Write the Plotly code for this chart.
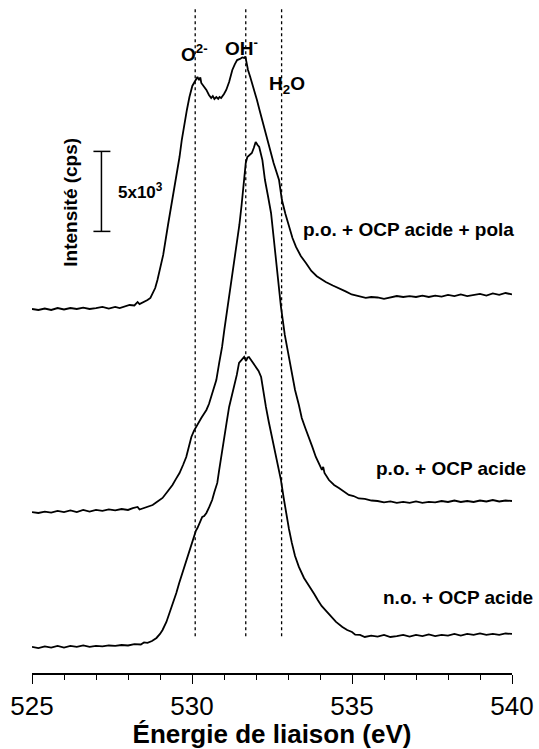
import plotly.graph_objects as go

# O 1s XPS spectra, binding energy (eV) and intensity (cps) before stacking
energy_pola = [525.0, 525.2, 525.4, 525.6, 525.8, 526.0, 526.2, 526.4, 526.6, 526.8,
               527.0, 527.2, 527.4, 527.6, 527.74, 527.9, 528.05, 528.2, 528.3, 528.36,
               528.5, 528.61, 528.7, 528.77, 528.85, 528.92, 529.0, 529.1, 529.25, 529.35,
               529.45, 529.53, 529.61, 529.68, 529.76, 529.84, 529.92, 530.01, 530.08, 530.17,
               530.22, 530.26, 530.29, 530.37, 530.45, 530.53, 530.6, 530.65, 530.7, 530.76,
               530.82, 530.86, 530.91, 531.0, 531.07, 531.16, 531.26, 531.34, 531.41, 531.5,
               531.57, 531.63, 531.67, 531.69, 531.75, 531.82, 531.88, 531.95, 532.03, 532.11,
               532.19, 532.3, 532.4, 532.55, 532.72, 532.81, 532.92, 533.03, 533.14, 533.25,
               533.4, 533.56, 533.73, 533.9, 534.05, 534.18, 534.4, 534.59, 534.8, 534.99,
               535.2, 535.43, 535.6, 535.8, 536.0, 536.2, 536.4, 536.6, 536.8, 537.0,
               537.2, 537.4, 537.6, 537.8, 538.0, 538.2, 538.4, 538.6, 538.8, 539.0,
               539.2, 539.4, 539.6, 539.8, 540.0]
counts_pola = [2750, 2690, 2780, 2690, 2810, 2720, 2810, 2750, 2840, 2750,
               2810, 2880, 2780, 2880, 2810, 2910, 3000, 2970, 3190, 3060,
               3190, 3310, 3440, 3750, 4060, 4560, 5190, 6130, 8000, 9130,
               10190, 11250, 12250, 13310, 14380, 15190, 16000, 16690, 16940, 17250,
               17060, 17220, 16880, 16690, 16440, 16130, 15940, 16060, 15880, 16000,
               15880, 16000, 15940, 16190, 16440, 16940, 17690, 18060, 18310, 18380,
               18470, 18440, 18530, 18310, 17690, 17250, 16880, 16380, 15810, 15190,
               14560, 13750, 13000, 11880, 10810, 9560, 8690, 7880, 7190, 6630,
               6060, 5630, 5130, 4800, 4600, 4440, 4220, 4020, 3850, 3660,
               3560, 3450, 3500, 3470, 3380, 3470, 3560, 3500, 3560, 3500,
               3590, 3500, 3590, 3530, 3630, 3560, 3660, 3560, 3630, 3690,
               3590, 3720, 3630, 3750, 3660]

energy_po = [525.0, 525.2, 525.4, 525.6, 525.8, 526.0, 526.2, 526.4, 526.6, 526.8,
             527.0, 527.2, 527.4, 527.6, 527.8, 528.0, 528.15, 528.3, 528.36, 528.5,
             528.65, 528.77, 528.9, 529.08, 529.2, 529.3, 529.39, 529.5, 529.61, 529.72,
             529.82, 529.9, 529.98, 530.06, 530.14, 530.21, 530.29, 530.37, 530.45, 530.53,
             530.6, 530.68, 530.76, 530.85, 530.94, 531.01, 531.1, 531.2, 531.3, 531.4,
             531.48, 531.55, 531.63, 531.68, 531.73, 531.8, 531.87, 531.93, 531.99, 532.05,
             532.1, 532.2, 532.28, 532.38, 532.47, 532.55, 532.63, 532.7, 532.78, 532.9,
             533.0, 533.1, 533.22, 533.34, 533.43, 533.54, 533.65, 533.76, 533.87, 533.97,
             534.06, 534.1, 534.14, 534.28, 534.44, 534.59, 534.75, 534.9, 535.05, 535.21,
             535.4, 535.61, 535.8, 536.0, 536.2, 536.4, 536.6, 536.8, 537.0, 537.2,
             537.4, 537.6, 537.8, 538.0, 538.2, 538.4, 538.6, 538.8, 539.0, 539.2,
             539.4, 539.6, 539.8, 540.0]
counts_po = [2060, 2000, 2090, 2030, 2130, 2060, 2160, 2060, 2190, 2090,
             2190, 2130, 2220, 2160, 2250, 2190, 2310, 2380, 2220, 2310,
             2380, 2500, 2690, 2940, 3250, 3500, 3750, 4130, 4500, 5000,
             5500, 6130, 6750, 7130, 7440, 7690, 7940, 8190, 8440, 8810,
             9250, 9750, 10310, 11380, 12380, 13440, 14690, 15940, 17380, 18750,
             20000, 21250, 22810, 23880, 24250, 24380, 24500, 24810, 25190, 25000,
             24880, 24060, 22810, 21750, 20750, 19250, 17630, 16250, 14880, 13130,
             12000, 10940, 9690, 8750, 7940, 7310, 6750, 6130, 5500, 5060,
             4690, 4880, 4500, 4060, 3750, 3560, 3310, 3130, 3060, 2910,
             2880, 2780, 2750, 2660, 2720, 2630, 2690, 2630, 2720, 2630,
             2690, 2660, 2750, 2690, 2780, 2690, 2750, 2690, 2780, 2720,
             2810, 2720, 2780, 2750]

energy_no = [525.0, 525.2, 525.4, 525.6, 525.8, 526.0, 526.2, 526.4, 526.6, 526.8,
             527.0, 527.2, 527.4, 527.6, 527.8, 528.0, 528.2, 528.4, 528.5, 528.61,
             528.75, 528.89, 529.0, 529.08, 529.2, 529.3, 529.4, 529.51, 529.6, 529.7,
             529.8, 529.92, 530.0, 530.07, 530.12, 530.17, 530.25, 530.32, 530.38, 530.45,
             530.54, 530.63, 530.7, 530.79, 530.85, 530.93, 531.01, 531.08, 531.16, 531.24,
             531.32, 531.4, 531.47, 531.55, 531.63, 531.69, 531.74, 531.78, 531.88, 532.0,
             532.08, 532.16, 532.23, 532.31, 532.4, 532.5, 532.6, 532.69, 532.78, 532.86,
             532.94, 533.03, 533.12, 533.22, 533.34, 533.42, 533.5, 533.6, 533.71, 533.82,
             533.93, 534.05, 534.19, 534.35, 534.5, 534.7, 534.85, 535.0, 535.1, 535.25,
             535.4, 535.6, 535.8, 536.0, 536.2, 536.4, 536.6, 536.8, 537.0, 537.2,
             537.4, 537.6, 537.8, 538.0, 538.2, 538.4, 538.6, 538.8, 539.0, 539.2,
             539.4, 539.6, 539.8, 540.0]
counts_no = [1630, 1560, 1660, 1590, 1690, 1590, 1690, 1630, 1720, 1630,
             1690, 1660, 1720, 1690, 1750, 1720, 1810, 1780, 1910, 1880,
             2000, 2190, 2440, 2690, 3190, 3750, 4380, 5000, 5630, 6250,
             6940, 7690, 8190, 8630, 8880, 9060, 9440, 9750, 9810, 10000,
             10380, 10810, 11310, 11880, 12690, 13630, 14560, 15630, 16630, 17250,
             17880, 18630, 19380, 19560, 19750, 19500, 19720, 19750, 19440, 19130,
             18880, 18500, 17560, 16630, 15690, 14750, 13880, 13130, 12060, 11000,
             10000, 9000, 8130, 7310, 6630, 6250, 5940, 5630, 5310, 4940,
             4560, 4190, 3880, 3500, 3190, 2880, 2690, 2560, 2400, 2380,
             2250, 2340, 2280, 2380, 2250, 2310, 2380, 2280, 2380, 2310,
             2410, 2310, 2380, 2340, 2440, 2340, 2440, 2380, 2470, 2380,
             2440, 2380, 2470, 2440]

series_names = ["n.o. + OCP acide", "p.o. + OCP acide", "p.o. + OCP acide + pola"]
series_offsets = [0, 8000, 20000]          # vertical stacking offsets (cps)
label_pos = [(535.92, 4690), (535.68, 12810), (533.40, 27690)]

peak_names = ["O<sup>2-</sup>", "OH<sup>-</sup>", "H<sub>2</sub>O"]
peak_energies = [530.1, 531.68, 532.8]
peak_label_pos = [(530.09, 38750), (531.55, 39130), (532.97, 36750)]

scale_value = 5000                         # intensity scale bar (cps)
scale_x = 527.17
scale_y0 = 27600

FONT = "Arial, Liberation Sans, sans-serif"

fig = go.Figure()

curves = [(energy_no, counts_no), (energy_po, counts_po), (energy_pola, counts_pola)]
for (xe, yc), off, name in zip(curves, series_offsets, series_names):
    fig.add_trace(go.Scatter(
        x=xe, y=[v + off for v in yc], mode="lines", name=name,
        line=dict(color="black", width=1.8), showlegend=False,
        hoverinfo="skip"))

for (lx, ly), name in zip(label_pos, series_names):
    fig.add_annotation(x=lx, y=ly, text="<b>%s</b>" % name, showarrow=False,
                       xanchor="left", yanchor="middle",
                       font=dict(family=FONT, size=19, color="black"))

# reference binding energies
for e in peak_energies:
    fig.add_shape(type="line", x0=e, x1=e, y0=2300, y1=41500,
                  line=dict(color="black", width=1.3, dash="dot"))
for (px, py), name in zip(peak_label_pos, peak_names):
    fig.add_annotation(x=px, y=py, text="<b>%s</b>" % name, showarrow=False,
                       xanchor="center", yanchor="middle",
                       font=dict(family=FONT, size=19, color="black"))

# intensity scale bar
fig.add_shape(type="line", x0=scale_x, x1=scale_x, y0=scale_y0, y1=scale_y0 + scale_value,
              line=dict(color="black", width=1.5))
for yy in (scale_y0, scale_y0 + scale_value):
    fig.add_shape(type="line", x0=scale_x - 0.25, x1=scale_x + 0.28, y0=yy, y1=yy,
                  line=dict(color="black", width=1.5))
fig.add_annotation(x=527.62, y=scale_y0 + scale_value / 2, text="<b>5x10<sup>3</sup></b>",
                   showarrow=False, xanchor="left", yanchor="middle",
                   font=dict(family=FONT, size=17, color="black"))
fig.add_annotation(x=526.21, y=29440, text="<b>Intensité (cps)</b>", showarrow=False,
                   textangle=-90, xanchor="center", yanchor="middle",
                   font=dict(family=FONT, size=19, color="black"))

fig.update_layout(
    width=539, height=749,
    margin=dict(l=32, r=25, t=5, b=76),
    paper_bgcolor="white", plot_bgcolor="white",
    font=dict(family=FONT, color="black"),
    xaxis=dict(
        range=[525, 540], tickvals=[525, 530, 535, 540],
        ticks="outside", ticklen=9, tickwidth=1.3, tickcolor="black",
        minor=dict(dtick=1, ticks="outside", ticklen=5, tickwidth=1.3, tickcolor="black"),
        showline=True, linecolor="black", linewidth=1.5,
        showgrid=False, zeroline=False,
        tickfont=dict(family=FONT, size=26, color="black"),
        title=dict(text="<b>Énergie de liaison (eV)</b>", standoff=4,
                   font=dict(family=FONT, size=26, color="black")),
    ),
    yaxis=dict(range=[0, 41750], visible=False, showgrid=False, zeroline=False),
)

fig.write_html("out.html")
